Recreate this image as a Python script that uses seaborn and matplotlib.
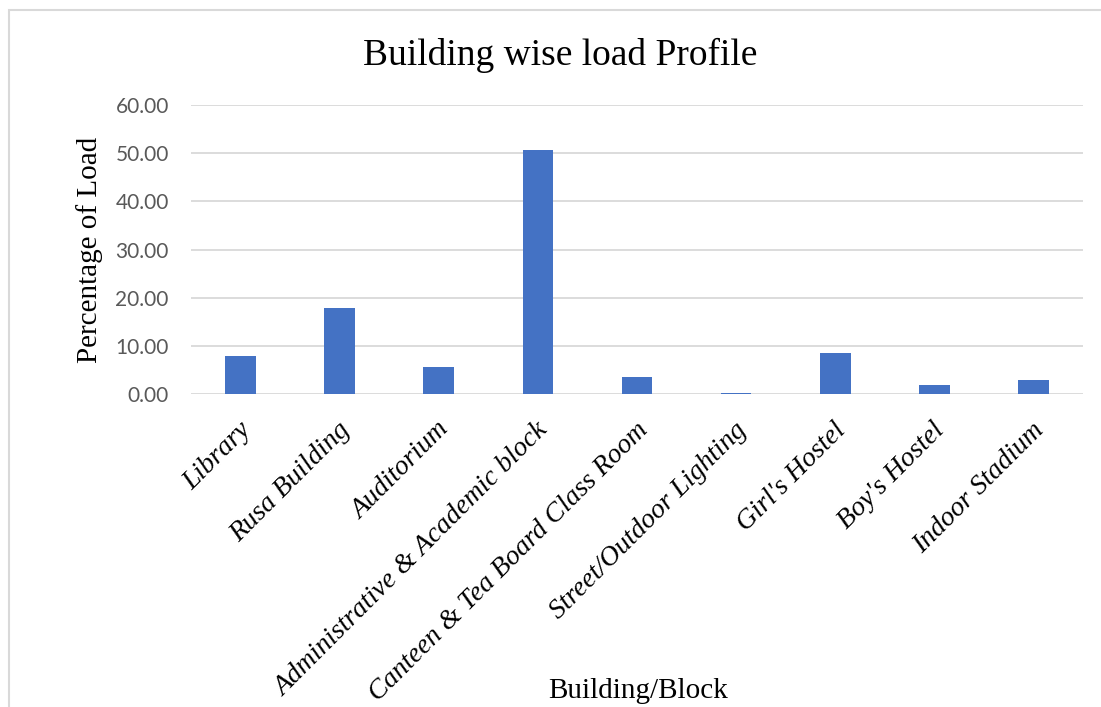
import matplotlib
matplotlib.use("Agg")
import matplotlib.pyplot as plt
import matplotlib.patches as patches
import matplotlib.transforms as mtransforms
import seaborn as sns
import pandas as pd

# chart data
buildings = [
    "Library", "Rusa Building", "Auditorium", "Administrative & Academic block",
    "Canteen & Tea Board Class Room", "Street/Outdoor Lighting", "Girl's Hostel",
    "Boy's Hostel", "Indoor Stadium",
]
load_pct = [7.8, 17.9, 5.6, 50.7, 3.5, 0.2, 8.6, 1.9, 3.0]
y_ticks = [0, 10, 20, 30, 40, 50, 60]

df = pd.DataFrame({"Building": buildings, "Load": load_pct})

sns.set_theme(style="white")
W, H = 1101, 707
fig = plt.figure(figsize=(W / 100, H / 100), dpi=100)
ax = fig.add_axes([191 / W, 1 - 394 / H, (1083 - 191) / W, (394 - 105) / H])

sns.barplot(data=df, x="Building", y="Load", color="#4472C4", saturation=1,
            width=0.31, linewidth=0, ax=ax, zorder=3)

ax.set_xlim(-0.5, len(buildings) - 0.5)
ax.set_ylim(0, 60)
ax.set_yticks(y_ticks)
ax.set_yticklabels([f"{v:.2f}" for v in y_ticks], fontfamily="Lato",
                   fontsize=15, color="#595959")
ax.yaxis.grid(True, color="#d9d9d9", linewidth=1.3, zorder=0)
ax.set_axisbelow(True)
for s in ax.spines.values():
    s.set_visible(False)
ax.tick_params(axis="y", length=0, pad=16)
ax.tick_params(axis="x", length=0, pad=17)
ax.set_xlabel("")
ax.set_ylabel("")

ax.set_xticks(range(len(buildings)))
ax.set_xticklabels(buildings, rotation=45, ha="right", va="top",
                   rotation_mode="anchor", fontfamily="Liberation Serif",
                   fontsize=20, style="italic", color="black")
offset = mtransforms.ScaledTranslation(-2 / 100, 0, fig.dpi_scale_trans)
for lbl in ax.get_xticklabels():
    lbl.set_transform(lbl.get_transform() + offset)

fig.text(560 / W, 1 - 65 / H, "Building wise load Profile", ha="center",
         va="baseline", fontfamily="Liberation Serif", fontsize=27, color="black")
fig.text(90 / W, 1 - 250 / H, "Percentage of Load", ha="center", va="center",
         rotation=90, fontfamily="Liberation Serif", fontsize=21, color="black")
fig.text(638 / W, 1 - 698 / H, "Building/Block", ha="center", va="baseline",
         fontfamily="Liberation Serif", fontsize=21, color="black")

# light frame around the chart area (runs off the right and bottom edges)
fig.patches.append(patches.Rectangle((9 / W, -0.1), 2, 1 - 9.5 / H + 0.1,
                                     transform=fig.transFigure, fill=False,
                                     edgecolor="#d9d9d9", linewidth=1.5))

fig.savefig("out.png", dpi=100)
